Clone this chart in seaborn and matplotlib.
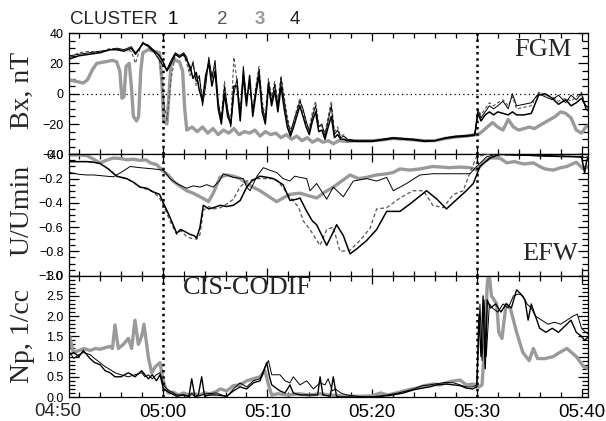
import matplotlib
matplotlib.use("Agg")
import matplotlib.pyplot as plt
import seaborn as sns
from matplotlib.ticker import MultipleLocator, FuncFormatter

# ---------------- data (time in minutes after 04:50 UT) ----------------
tick_minutes = [0, 10, 20, 30, 40, 50]
tick_labels = ["04:50", "05:00", "05:10", "05:20", "05:30", "05:40"]
boundary_minutes = [10, 40]
sc_names = ["1", "2", "3", "4"]

# Panel 1: Bx (nT), FGM
t_bx = [1.15, 2.0, 3.0, 4.0, 5.0, 5.6, 6.3, 7.0, 7.4, 7.8, 8.1, 8.6, 9.2, 9.7, 10.1, 10.4, 10.8, 11.2, 11.6, 12.0,
        12.3, 12.6, 12.9, 13.2, 13.5, 13.8, 14.1, 14.4, 14.7, 15.0, 15.3, 15.6, 15.9, 16.2, 16.5, 16.8, 17.1, 17.4,
        17.7, 18.0, 18.3, 18.6, 18.9, 19.2, 19.5, 19.8, 20.1, 20.4, 20.7, 21.0, 21.3, 21.6, 21.9, 22.2, 22.5, 22.8,
        23.1, 23.4, 23.7, 24.0, 24.3, 24.6, 24.9, 25.2, 25.5, 25.8, 26.1, 26.4, 26.7, 27.0, 27.3, 27.6,
        28.5, 30.0, 31.0, 32.0, 33.0, 34.0, 35.0, 36.0, 37.0, 38.0, 39.0, 39.8,
        40.1, 40.4, 40.8, 41.2, 41.6, 42.0, 42.5, 43.0, 43.4, 43.8, 44.5, 45.2, 45.9, 46.5, 47.2, 47.8, 48.5, 49.0,
        49.5, 50.0, 50.4, 50.7]
bx1 = [25, 26, 27, 28, 29, 30, 29, 31, 27, 30, 34, 31, 27, 22, 18, 16, 22, 27, 25, 27,
       24, 15, 20, 8, 12, -8, 5, 24, 10, 22, -5, -18, 5, -10, -22, 0, 10, -15, 18, -5, 8, -12, 3, 16, -8, -18,
       8, -5, 6, -8, 10, -5, -18, -26, -18, -12, -5, -10, -18, -25, -15, -8, -22, -20, -28, -18, -8, -27, -24,
       -29, -28, -30,
       -31, -31, -30, -29, -29.5, -30, -31, -31, -29, -28, -27.5, -27,
       -11, -16, -12, -8, -10, -8, -5, -10, 0, -8, -7, -6, 0, -2, -4, -1, -6, -1, -4, 0, -10, -12]
bx2 = [24, 27, 28, 27, 30, 29, 29, 28, 20, 29, 33, 31, 28, 22, -5, -18, 10, 25, 26, 25,
       20, 12, 22, 5, 10, -2, 8, 22, 12, 18, -8, -15, 8, -12, -18, 24, 8, -12, 15, -2, 5, -10, 5, 18, -5, -15,
       10, -2, 8, -5, 12, -2, -15, -24, -20, -10, -3, -12, -20, -23, -12, -5, -20, -22, -26, -15, -5, -25, -22,
       -28, -27, -30,
       -31, -31, -30, -29, -29.5, -30, -31, -31, -29, -28, -27.5, -27,
       -10, -14, -10, -6, -8, -6, -4, -8, -2, -10, -9, -8, 1, -1, -2, -5, -3, -5, -2, 1, -9, -11]
bx4 = [23, 25, 26, 27, 29, 29, 28, 30, 26, 30, 33, 32, 28, 25, 20, 15, 20, 26, 24, 26,
       22, 18, 10, 14, 2, -5, 12, 20, 5, 15, -10, -20, 0, -15, -20, 5, 5, -18, 12, -8, 12, -15, 0, 12, -12, -20,
       5, -8, 2, -12, 5, -10, -22, -28, -22, -15, -8, -15, -22, -27, -18, -12, -25, -24, -30, -22, -15, -29, -27,
       -30, -30, -31,
       -31.5, -31.5, -30.5, -29.5, -30, -30.5, -31.5, -31, -29.5, -28.5, -28, -27.5,
       -13, -18, -14, -12, -14, -12, -13, -14, -12, -14, -14, -13, -1, 0, -3, -7, -4, -8, -6, -3, -8, -9]
t_bx3 = [1.15, 1.8, 2.4, 2.8, 3.3, 3.7, 4.5, 5.2, 5.6, 5.9, 6.1, 6.3, 6.5, 6.8, 7.0, 7.2, 7.5, 7.7, 7.9, 8.1,
         8.6, 9.2, 9.7, 9.9, 10.1, 10.4, 10.6, 10.8, 11.2, 11.6, 11.9, 12.1, 12.3, 12.8, 13.3, 13.8, 14.3, 14.8,
         15.3, 15.8, 16.3, 16.8, 17.3, 17.8, 18.3, 18.8, 19.3, 19.8, 20.3, 20.8, 21.3, 21.8, 22.3, 22.8, 23.3,
         23.8, 24.3, 24.8, 25.3, 25.8, 26.3, 26.8, 27.6, 28.5, 30, 31, 32, 33, 34, 35, 36, 37, 38, 39, 39.8,
         40.1, 40.5, 41.0, 41.5, 42.0, 42.5, 43.0, 43.5, 44.0, 44.5, 45.0, 45.5, 46.0, 46.5, 47.0, 47.5, 48.0,
         48.5, 49.0, 49.5, 50.0, 50.4, 50.7]
bx3 = [9, 8, 7, 9, 16, 20, 21, 22, 21, 15, -3, -2, 18, 20, 5, -15, -18, -15, 15, 27,
       29, 28, 27, 10, -18, -20, 0, 20, 22, 21, 15, -10, -24, -22, -25, -22, -26, -23,
       -27, -24, -26, -23, -27, -25, -26, -24, -28, -25, -27, -26, -29, -27, -30, -28, -31,
       -29, -32, -30, -32, -31, -33, -31, -31.5, -31, -31, -30.5, -29.5, -30, -30.5, -31, -31, -29.5, -28.5, -28, -27,
       -27, -25, -22, -19, -22, -24, -17, -22, -24, -23, -22, -23, -21, -19, -17, -15, -12,
       -13, -16, -24, -26, -22, -21]

# Panel 2: U/Umin, EFW
t_u1 = [1.15, 2.0, 2.74, 3.4, 4.01, 4.6, 5.28, 6.0, 6.9, 7.83, 9.1, 10.06, 10.7, 11.33, 12.29, 12.9, 13.56, 14.2,
        14.83, 15.4, 15.79, 16.75, 17.7, 18.02, 18.34, 19.0, 19.61, 20.2, 20.88, 21.5, 22.15, 22.6, 23.11, 23.75,
        24.07, 24.7, 25.66, 26.29, 27.25, 28.2, 29.48, 30.43, 31.39, 32.02, 33.3, 34.57, 35.8, 37.1, 38.4, 39.35,
        39.98, 40.94, 41.9, 43.5, 45.0, 46.5, 48.0, 49.5, 50.3, 50.68]
u1 = [-0.15, -0.165, -0.17, -0.17, -0.175, -0.18, -0.185, -0.15, -0.1, -0.11, -0.12, -0.13, -0.2, -0.24, -0.28,
      -0.26, -0.27, -0.25, -0.27, -0.22, -0.16, -0.19, -0.2, -0.27, -0.3, -0.18, -0.11, -0.13, -0.15, -0.2, -0.22,
      -0.18, -0.19, -0.2, -0.3, -0.24, -0.37, -0.27, -0.35, -0.22, -0.2, -0.22, -0.19, -0.3, -0.24, -0.17, -0.16,
      -0.16, -0.16, -0.16, -0.1, -0.02, 0.0, -0.005, -0.01, -0.015, -0.02, -0.02, -0.025, -0.03]
t_u2 = [1.15, 2.0, 2.74, 3.4, 4.01, 4.8, 5.6, 6.55, 7.2, 7.83, 8.5, 9.1, 9.7, 10.06, 10.7, 11.33, 11.7, 12.2,
        12.61, 13.24, 13.56, 13.88, 14.4, 14.83, 15.5, 16.1, 16.75, 17.38, 18.0, 18.97, 20.56, 21.0, 22.15, 23.0,
        23.43, 24.07, 25.02, 25.66, 26.29, 26.93, 27.89, 28.84, 29.8, 30.43, 31.39, 32.66, 33.9, 34.9, 35.8, 36.8,
        37.75, 38.7, 39.35, 39.98, 40.94, 43.0, 46.0, 48.0, 50.0, 50.68]
u2 = [-0.06, -0.06, -0.06, -0.065, -0.075, -0.12, -0.18, -0.2, -0.23, -0.27, -0.29, -0.31, -0.36, -0.42, -0.55,
      -0.66, -0.63, -0.67, -0.69, -0.7, -0.66, -0.46, -0.43, -0.45, -0.44, -0.41, -0.37, -0.27, -0.22, -0.2, -0.2,
      -0.22, -0.35, -0.44, -0.55, -0.62, -0.75, -0.62, -0.6, -0.8, -0.79, -0.71, -0.61, -0.45, -0.44, -0.36, -0.3,
      -0.3, -0.42, -0.44, -0.33, -0.3, -0.15, -0.02, 0.0, -0.005, -0.01, -0.015, -0.02, -0.02]
t_u3 = [1.15, 2.0, 2.74, 3.4, 4.01, 4.6, 5.28, 6.0, 6.55, 7.2, 7.83, 8.4, 8.8, 9.42, 10.06, 10.5, 11.0, 11.6,
        12.29, 12.9, 13.56, 14.0, 14.36, 14.83, 15.47, 16.1, 16.75, 17.4, 18.02, 18.6, 19.29, 20.0, 20.88, 21.5,
        22.15, 23.11, 23.9, 24.7, 25.5, 26.29, 27.1, 27.89, 28.7, 29.48, 30.4, 31.39, 32.0, 32.66, 33.6, 34.57,
        35.2, 35.8, 36.6, 37.4, 38.4, 39.35, 39.98, 40.6, 41.26, 42.2, 42.85, 43.6, 44.5, 45.4, 46.0, 46.5, 47.3,
        48.0, 48.6, 49.5, 50.17, 50.68]
u3 = [-0.005, -0.005, -0.01, -0.04, -0.07, -0.05, -0.03, -0.035, -0.045, -0.04, -0.05, -0.045, -0.07, -0.085,
      -0.14, -0.17, -0.22, -0.26, -0.3, -0.32, -0.35, -0.37, -0.39, -0.32, -0.19, -0.17, -0.18, -0.2, -0.24, -0.27,
      -0.3, -0.34, -0.39, -0.36, -0.33, -0.32, -0.34, -0.36, -0.31, -0.27, -0.22, -0.17, -0.2, -0.19, -0.17, -0.16,
      -0.15, -0.12, -0.13, -0.12, -0.11, -0.1, -0.105, -0.11, -0.105, -0.11, -0.13, -0.07, -0.03, -0.03, -0.07,
      -0.06, -0.08, -0.07, -0.1, -0.12, -0.13, -0.11, -0.1, -0.065, -0.12, -0.1]
t_u4 = [1.15, 2.0, 2.74, 3.4, 4.01, 4.8, 5.6, 6.55, 7.2, 7.83, 8.5, 9.1, 9.7, 10.06, 10.7, 11.33, 11.7, 11.97,
        12.61, 13.0, 13.24, 13.56, 13.88, 14.4, 14.83, 15.5, 16.1, 16.75, 17.4, 18.02, 18.5, 19.29, 20.0, 20.56,
        21.5, 22.15, 22.8, 23.11, 23.75, 24.3, 24.7, 25.66, 26.29, 26.61, 27.25, 27.89, 28.52, 29.48, 30.43, 31.39,
        32.66, 33.6, 35.2, 36.2, 37.1, 38.1, 39.0, 39.67, 40.3, 41.26, 42.2, 44.0, 46.0, 48.0, 50.0, 50.3, 50.5,
        50.68]
u4 = [-0.06, -0.06, -0.06, -0.065, -0.075, -0.12, -0.18, -0.2, -0.23, -0.27, -0.28, -0.31, -0.33, -0.4, -0.52,
      -0.65, -0.62, -0.63, -0.66, -0.67, -0.69, -0.6, -0.42, -0.45, -0.44, -0.42, -0.43, -0.42, -0.38, -0.27,
      -0.22, -0.18, -0.19, -0.2, -0.25, -0.38, -0.37, -0.36, -0.47, -0.55, -0.58, -0.75, -0.64, -0.58, -0.67,
      -0.82, -0.78, -0.71, -0.62, -0.47, -0.47, -0.41, -0.3, -0.37, -0.45, -0.37, -0.3, -0.24, -0.1, -0.03, 0.0,
      -0.005, -0.01, -0.015, -0.02, -0.15, -0.05, -0.02]

# Panel 3: Np (1/cc), CIS-CODIF (spacecraft 1, 3, 4)
t_np1 = [1.15, 1.5, 2.0, 2.42, 3.06, 3.5, 4.01, 4.5, 4.97, 5.44, 6.0, 6.72, 7.35, 7.99, 8.3, 8.63, 9.0, 9.4, 9.74,
         10.06, 10.4, 10.7, 11.33, 12.0, 12.5, 12.77, 13.08, 13.72, 14.2, 15.15, 16.11, 16.75, 17.38, 18.02, 18.66,
         19.29, 19.77, 20.1, 20.41, 21.2, 21.68, 22.15, 22.47, 23.11, 23.75, 24.39, 25.03, 25.5, 25.8, 26.2, 26.5,
         27.0, 27.6, 28.5, 29.5, 30.5, 31.5, 32.5, 33.3, 34.0, 34.8, 35.5, 36.2, 37.0, 37.8, 38.4, 39.0, 39.6,
         40.0, 40.3, 40.5, 40.7, 40.9, 41.2, 41.5, 42.0, 42.5, 43.0, 43.5, 44.0, 44.4, 44.8, 45.2, 45.6, 46.2,
         46.8, 47.4, 48.0, 48.6, 49.2, 49.6, 50.0, 50.4, 50.68]
np1 = [1.1, 0.95, 1.05, 1.1, 1.05, 0.95, 0.85, 0.75, 0.68, 0.6, 0.55, 0.5, 0.55, 0.6, 0.5, 0.55, 0.45, 0.55, 0.6,
       0.3, 0.2, 0.15, 0.05, 0.05, 0.0, 0.1, 0.0, 0.05, 0.08, 0.1, 0.0, 0.2, 0.35, 0.25, 0.4, 0.45, 0.75, 0.9, 0.55,
       0.55, 0.4, 0.35, 0.5, 0.3, 0.4, 0.2, 0.35, 0.3, 0.45, 0.15, 0.2, 0.1, 0.05, 0.02, 0.0, 0.02, 0.05, 0.1, 0.15,
       0.2, 0.28, 0.3, 0.33, 0.36, 0.35, 0.3, 0.25, 0.25, 0.3, 2.3, 0.9, 2.4, 1.0, 2.3, 2.2, 2.1, 2.3, 2.2, 2.5,
       2.55, 2.5, 2.3, 2.2, 2.0, 1.9, 1.8, 1.85, 1.8, 1.9, 2.0, 2.05, 1.7, 1.6, 1.55]
t_np3 = [1.1, 1.46, 2.0, 2.5, 3.06, 3.6, 4.01, 4.5, 4.97, 5.2, 5.44, 5.76, 6.24, 6.72, 7.03, 7.35, 7.67, 7.99,
         8.21, 8.63, 8.94, 9.3, 9.74, 10.06, 10.3, 10.54, 11.0, 11.5, 12.0, 12.5, 13.0, 13.5, 14.0, 14.5, 15.0,
         15.5, 16.11, 16.75, 17.38, 18.02, 18.66, 19.29, 19.77, 20.1, 20.41, 21.0, 22.0, 23.0, 24.0, 25.0, 26.0,
         27.0, 28.0, 29.0, 30.0, 30.8, 31.5, 32.66, 33.5, 34.2, 35.0, 35.8, 36.5, 37.4, 38.4, 39.0, 39.7, 40.2,
         40.5, 40.8, 41.0, 41.15, 41.4, 41.9, 42.1, 42.4, 42.8, 43.2, 43.8, 44.4, 45.0, 45.4, 45.8, 46.5, 47.3,
         47.9, 48.6, 49.5, 50.2, 50.68]
np3 = [1.5, 1.1, 1.15, 1.2, 1.15, 1.2, 1.18, 1.22, 1.25, 1.2, 1.78, 1.2, 1.3, 1.45, 1.2, 1.9, 1.3, 1.5, 1.8, 0.98,
       0.6, 0.75, 0.85, 0.4, 0.2, 0.1, 0.12, 0.05, 0.1, 0.05, 0.08, 0.05, 0.1, 0.08, 0.12, 0.2, 0.15, 0.28, 0.3,
       0.4, 0.45, 0.5, 0.65, 0.3, 0.05, 0.08, 0.05, 0.08, 0.05, 0.08, 0.05, 0.03, 0.02, 0.02, 0.03, 0.1, 0.05, 0.12,
       0.18, 0.22, 0.28, 0.32, 0.3, 0.38, 0.42, 0.3, 0.32, 0.25, 0.3, 1.5, 2.8, 3.1, 2.5, 2.3, 1.6, 1.45, 2.3, 2.2,
       1.6, 1.1, 0.9, 1.2, 0.95, 0.95, 1.0, 1.1, 1.2, 1.0, 0.75, 0.7]
t_np4 = [1.15, 1.5, 2.0, 2.42, 3.06, 3.5, 4.01, 4.5, 4.97, 5.44, 6.0, 6.72, 7.35, 7.99, 8.3, 8.63, 9.0, 9.4, 9.74,
         10.06, 10.4, 10.7, 11.33, 12.0, 12.5, 12.77, 13.08, 13.4, 13.72, 14.0, 14.5, 15.15, 16.11, 16.75, 17.38,
         18.02, 18.66, 19.29, 19.6, 19.93, 20.2, 20.41, 21.2, 21.68, 22.15, 22.47, 23.11, 23.75, 24.39, 24.8, 25.03,
         25.3, 26.0, 26.29, 26.6, 27.0, 28.0, 29.0, 30.0, 31.0, 32.0, 33.0, 34.0, 34.8, 35.5, 36.2, 37.0, 37.8,
         38.4, 39.0, 39.6, 40.0, 40.2, 40.4, 40.6, 40.8, 41.0, 41.3, 41.8, 42.3, 42.8, 43.3, 43.8, 44.2, 44.6,
         44.9, 45.2, 45.6, 46.0, 46.6, 47.2, 47.8, 48.4, 49.0, 49.5, 50.0, 50.3, 50.68]
np4 = [1.05, 1.1, 1.0, 1.15, 0.95, 0.85, 0.8, 0.65, 0.6, 0.5, 0.5, 0.6, 0.5, 0.65, 0.55, 0.45, 0.55, 0.4, 0.55,
       0.2, 0.15, 0.1, 0.02, 0.05, 0.02, 0.45, 0.0, 0.05, 0.5, 0.02, 0.05, 0.05, 0.02, 0.15, 0.25, 0.2, 0.35, 0.4,
       0.6, 0.85, 0.5, 0.3, 0.15, 0.1, 0.3, 0.1, 0.05, 0.05, 0.05, 0.05, 0.5, 0.05, 0.02, 0.5, 0.02, 0.0, 0.0, 0.0,
       0.0, 0.02, 0.05, 0.1, 0.18, 0.22, 0.25, 0.3, 0.32, 0.3, 0.28, 0.22, 0.2, 0.25, 2.0, 1.0, 2.5, 0.7, 2.4, 2.2,
       2.3, 2.1, 2.3, 2.2, 2.65, 2.55, 2.4, 1.9, 2.3, 2.0, 1.7, 1.6, 1.7, 1.6, 1.75, 1.9, 1.6, 1.5, 1.4, 1.5]

# ---------------- styling ----------------
sns.set_style("ticks")
plt.rcParams['font.family'] = ['Liberation Sans', 'DejaVu Sans']
plt.rcParams['axes.linewidth'] = 0.9
SERIF = ['Liberation Serif', 'DejaVu Serif']

C_BLACK = "#000000"
C_DASH = "#555555"
C_GRAY = "#9a9a9a"

fig = plt.figure(figsize=(6.06, 4.21), dpi=100)
gs = fig.add_gridspec(3, 1, left=0.1139, right=0.9703, top=0.9216, bottom=0.057, hspace=0)
ax1, ax2, ax3 = [fig.add_subplot(gs[i]) for i in range(3)]


def draw(ax, t, v, color, lw, ls='-', z=2):
    sns.lineplot(x=t, y=v, ax=ax, color=color, linewidth=lw, linestyle=ls,
                 estimator=None, sort=False, zorder=z)


# Bx
draw(ax1, t_bx3, bx3, C_GRAY, 2.4, z=2)
draw(ax1, t_bx, bx2, C_DASH, 0.8, ls=(0, (3, 2)), z=3)
draw(ax1, t_bx, bx4, C_BLACK, 1.1, z=4)
draw(ax1, t_bx, bx1, C_BLACK, 0.7, z=5)
# U/Umin
draw(ax2, t_u3, u3, C_GRAY, 2.4, z=2)
draw(ax2, t_u2, u2, C_DASH, 0.9, ls=(0, (3, 2)), z=3)
draw(ax2, t_u4, u4, C_BLACK, 1.1, z=4)
draw(ax2, t_u1, u1, C_BLACK, 0.7, z=5)
# Np
draw(ax3, t_np3, np3, C_GRAY, 2.4, z=2)
draw(ax3, t_np4, np4, C_BLACK, 1.0, z=4)
draw(ax3, t_np1, np1, C_BLACK, 0.7, z=5)


def fmt1(v, pos):
    s = f"{v:.1f}"
    if s == "-0.0":
        s = "0.0"
    return s.replace("-", "\u2212")


def fmt0(v, pos):
    return f"{v:.0f}".replace("-", "\u2212")


for ax in (ax1, ax2, ax3):
    ax.set_xticks(tick_minutes, labels=tick_labels)
    ax.xaxis.set_minor_locator(MultipleLocator(2))
    ax.set_xlim(1.05, 50.62)
    ax.tick_params(which='both', direction='in', top=True, right=True, width=0.9, colors='k')
    ax.tick_params(axis='x', which='major', length=6, pad=5, labelsize=13.5)
    ax.tick_params(axis='x', which='minor', length=3.5)
    ax.tick_params(axis='y', which='major', length=7, pad=4, labelsize=9)
    ax.tick_params(axis='y', which='minor', length=4)
    for b in boundary_minutes:
        ax.axvline(b, color='k', linestyle=(0, (1, 1.5)), linewidth=1.8, zorder=6)
    for s in ax.spines.values():
        s.set_color('k')
        s.set_linewidth(0.9)
    ax.set_xlabel("")

ax1.tick_params(axis='x', labelbottom=False)
ax2.tick_params(axis='x', labelbottom=False)

ax1.set_ylim(-40, 40)
ax1.yaxis.set_major_locator(MultipleLocator(20))
ax1.yaxis.set_minor_locator(MultipleLocator(5))
ax1.yaxis.set_major_formatter(FuncFormatter(fmt0))
ax1.axhline(0, color='k', linestyle=(0, (1, 2.5)), linewidth=0.9, zorder=1)

ax2.set_ylim(-1.0, 0.0)
ax2.yaxis.set_major_locator(MultipleLocator(0.2))
ax2.yaxis.set_minor_locator(MultipleLocator(0.05))
ax2.yaxis.set_major_formatter(FuncFormatter(fmt1))

ax3.set_ylim(0.0, 3.0)
ax3.yaxis.set_major_locator(MultipleLocator(0.5))
ax3.yaxis.set_minor_locator(MultipleLocator(0.1))
ax3.yaxis.set_major_formatter(FuncFormatter(fmt1))

# first time label lies just left of the plotted interval
ax3.text(tick_minutes[0], -0.05, tick_labels[0], transform=ax3.get_xaxis_transform(),
         ha='center', va='top', fontsize=13.5, clip_on=False)

for ax, lab, yc in ((ax1, "Bx, nT", 0.53), (ax2, "U/Umin", 0.54), (ax3, "Np, 1/cc", 0.50)):
    ax.set_ylabel(lab, fontfamily=SERIF, fontsize=20)
    ax.yaxis.set_label_coords(-0.066, yc)

ax1.text(0.969, 0.86, "FGM", transform=ax1.transAxes, ha='right', va='center',
         fontfamily=SERIF, fontsize=19)
ax2.text(0.98, 0.18, "EFW", transform=ax2.transAxes, ha='right', va='center',
         fontfamily=SERIF, fontsize=19)
ax3.text(0.22, 0.90, "CIS-CODIF", transform=ax3.transAxes, ha='left', va='center',
         fontfamily=SERIF, fontsize=19)

# spacecraft header
fig.text(70 / 606, 1 - 19 / 421, "CLUSTER", ha='left', va='center', fontsize=13.5)
hdr_x = [173, 222, 260, 295]
hdr_style = [(C_BLACK, 'normal'), (C_DASH, 'normal'), (C_GRAY, 'bold'), ("#222222", 'normal')]
for name, xp, (col, wt) in zip(sc_names, hdr_x, hdr_style):
    fig.text(xp / 606, 1 - 19 / 421, name, ha='center', va='center', fontsize=13.5, color=col, fontweight=wt)

fig.savefig("out.png", dpi=100)
